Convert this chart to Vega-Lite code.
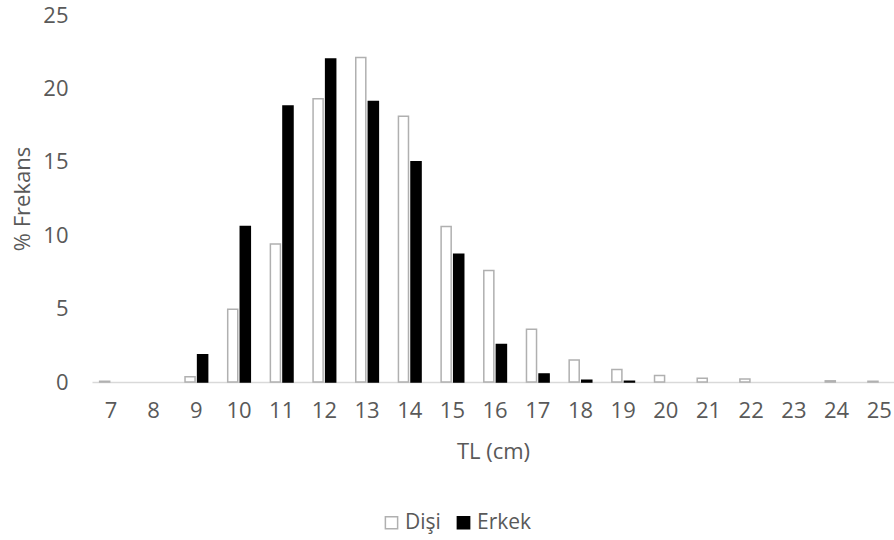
{
  "$schema": "https://vega.github.io/schema/vega-lite/v6.json",
  "width": 802,
  "height": 367,
  "autosize": {"type": "none"},
  "padding": {"left": 92, "top": 15, "right": 0, "bottom": 158},
  "background": "white",
  "config": {"view": {"stroke": null}, "font": "Open Sans"},
  "data": {
    "values": [
      {"TL": 7, "sex": "Dişi", "pct": 0.05},
      {"TL": 9, "sex": "Dişi", "pct": 0.35},
      {"TL": 10, "sex": "Dişi", "pct": 4.95},
      {"TL": 11, "sex": "Dişi", "pct": 9.4},
      {"TL": 12, "sex": "Dişi", "pct": 19.3},
      {"TL": 13, "sex": "Dişi", "pct": 22.1},
      {"TL": 14, "sex": "Dişi", "pct": 18.1},
      {"TL": 15, "sex": "Dişi", "pct": 10.6},
      {"TL": 16, "sex": "Dişi", "pct": 7.6},
      {"TL": 17, "sex": "Dişi", "pct": 3.6},
      {"TL": 18, "sex": "Dişi", "pct": 1.5},
      {"TL": 19, "sex": "Dişi", "pct": 0.85},
      {"TL": 20, "sex": "Dişi", "pct": 0.45},
      {"TL": 21, "sex": "Dişi", "pct": 0.25},
      {"TL": 22, "sex": "Dişi", "pct": 0.2},
      {"TL": 24, "sex": "Dişi", "pct": 0.08},
      {"TL": 25, "sex": "Dişi", "pct": 0.05},
      {"TL": 9, "sex": "Erkek", "pct": 1.85},
      {"TL": 10, "sex": "Erkek", "pct": 10.6},
      {"TL": 11, "sex": "Erkek", "pct": 18.8},
      {"TL": 12, "sex": "Erkek", "pct": 22.0},
      {"TL": 13, "sex": "Erkek", "pct": 19.1},
      {"TL": 14, "sex": "Erkek", "pct": 15.0},
      {"TL": 15, "sex": "Erkek", "pct": 8.7},
      {"TL": 16, "sex": "Erkek", "pct": 2.55},
      {"TL": 17, "sex": "Erkek", "pct": 0.55},
      {"TL": 18, "sex": "Erkek", "pct": 0.12},
      {"TL": 19, "sex": "Erkek", "pct": 0.05}
    ]
  },
  "mark": {"type": "bar", "strokeWidth": 1.5},
  "encoding": {
    "x": {
      "field": "TL",
      "type": "ordinal",
      "scale": {"domain": [7, 8, 9, 10, 11, 12, 13, 14, 15, 16, 17, 18, 19, 20, 21, 22, 23, 24, 25], "paddingInner": 0.47, "paddingOuter": 0.13, "align": 0.69},
      "axis": {
        "title": "TL (cm)",
        "labelAngle": 0,
        "ticks": false,
        "domainColor": "#d9d9d9",
        "domainWidth": 1.5,
        "labelFontSize": 22,
        "labelColor": "#595959",
        "labelPadding": 18,
        "titleFontSize": 22,
        "titleColor": "#595959",
        "titleFontWeight": "normal",
        "titlePadding": 20
      }
    },
    "xOffset": {
      "field": "sex",
      "type": "nominal",
      "sort": ["Dişi", "Erkek"],
      "scale": {"domain": ["Dişi", "Erkek"], "paddingInner": 0.2}
    },
    "y": {
      "field": "pct",
      "type": "quantitative",
      "scale": {"domain": [0, 25]},
      "axis": {
        "title": "% Frekans",
        "values": [0, 5, 10, 15, 20, 25],
        "grid": false,
        "domain": false,
        "ticks": false,
        "labelFontSize": 22,
        "labelColor": "#595959",
        "labelPadding": 24,
        "titleFontSize": 22,
        "titleColor": "#595959",
        "titleFontWeight": "normal",
        "titlePadding": 8
      }
    },
    "fill": {
      "field": "sex",
      "type": "nominal",
      "scale": {"domain": ["Dişi", "Erkek"], "range": ["white", "black"]},
      "legend": {
        "title": null,
        "orient": "none",
        "direction": "horizontal",
        "legendX": 289,
        "legendY": 497,
        "symbolType": "square",
        "symbolSize": 150,
        "symbolStrokeWidth": 1.5,
        "labelFontSize": 21,
        "labelColor": "#595959",
        "labelOffset": 3,
        "columnPadding": 12
      }
    },
    "stroke": {
      "field": "sex",
      "type": "nominal",
      "scale": {"domain": ["Dişi", "Erkek"], "range": ["#b0b0b0", "black"]},
      "legend": {
        "title": null,
        "orient": "none",
        "direction": "horizontal",
        "legendX": 289,
        "legendY": 497,
        "symbolType": "square",
        "symbolSize": 150,
        "symbolStrokeWidth": 1.5,
        "labelFontSize": 21,
        "labelColor": "#595959",
        "labelOffset": 3,
        "columnPadding": 12
      }
    }
  }
}
